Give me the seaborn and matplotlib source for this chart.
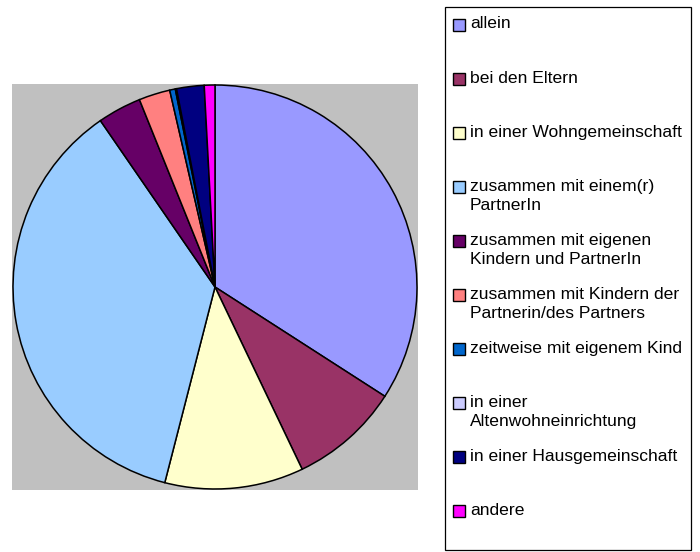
import matplotlib
matplotlib.use("Agg")
import matplotlib.pyplot as plt
from matplotlib.patches import Rectangle
import seaborn as sns

# Wohnform shares (percent), clockwise from 12 o'clock
labels = [
    "allein",
    "bei den Eltern",
    "in einer Wohngemeinschaft",
    "zusammen mit einem(r)\nPartnerIn",
    "zusammen mit eigenen\nKindern und PartnerIn",
    "zusammen mit Kindern der\nPartnerin/des Partners",
    "zeitweise mit eigenem Kind",
    "in einer\nAltenwohneinrichtung",
    "in einer Hausgemeinschaft",
    "andere",
]
values = [34.1, 8.8, 11.1, 36.4, 3.5, 2.5, 0.45, 0.1, 2.2, 0.85]
colors = ["#9999FF", "#993366", "#FFFFCC", "#99CCFF", "#660066",
          "#FF8080", "#0066CC", "#CCCCFF", "#000080", "#FF00FF"]

sns.set_style("white")
plt.rcParams["font.family"] = ["Liberation Sans", "DejaVu Sans"]
palette = sns.color_palette(colors)

fig = plt.figure(figsize=(7, 5.52), dpi=100)

# pie on a grey square plot area
ax = fig.add_axes([12 / 700, (552 - 490) / 552, 406 / 700, 406 / 552])
ax.pie(values, colors=palette, startangle=90, counterclock=False, frame=True,
       wedgeprops=dict(edgecolor="black", linewidth=1.1))
ax.set_facecolor("#C0C0C0")
ax.set_xlim(-1.005, 1.005)
ax.set_ylim(-1.005, 1.005)
ax.set_xticks([])
ax.set_yticks([])
for s in ax.spines.values():
    s.set_visible(False)

# legend drawn in pixel coordinates
lg = fig.add_axes([0, 0, 1, 1], facecolor="none")
lg.set_xlim(0, 700)
lg.set_ylim(552, 0)
lg.axis("off")
lg.add_patch(Rectangle((445, 7), 246, 543, facecolor="white",
                       edgecolor="black", linewidth=0.9))
y0, step = 25, 54.1
for i, (lab, col) in enumerate(zip(labels, palette)):
    yc = y0 + i * step
    lg.add_patch(Rectangle((453, yc - 6.5), 12, 12, facecolor=col,
                           edgecolor="black", linewidth=1.0))
    for j, line in enumerate(lab.split("\n")):
        lg.text(470, yc + 3.5 + j * 19, line, fontsize=12.6, color="black",
                va="baseline", ha="left")

fig.savefig("out.png", dpi=100)
